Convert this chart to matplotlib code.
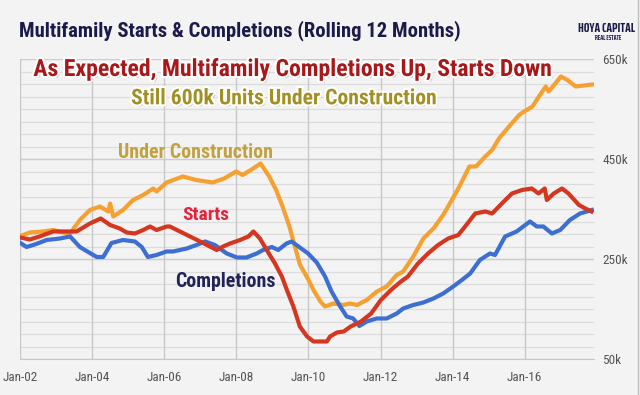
import matplotlib
matplotlib.use("Agg")
import matplotlib.pyplot as plt
import matplotlib.patheffects as pe
from matplotlib.lines import Line2D

plt.rcParams["font.family"] = ["Roboto Condensed", "DejaVu Sans"]
plt.rcParams["font.stretch"] = "condensed"

# data, values in thousands of units
comp_dates = [2002.0, 2002.17, 2002.4, 2002.73, 2003.1, 2003.38, 2003.65, 2003.93, 2004.12, 2004.3,
              2004.53, 2004.85, 2005.18, 2005.37, 2005.54, 2005.78, 2006.06, 2006.24, 2006.62, 2006.89,
              2007.13, 2007.4, 2007.73, 2008.01, 2008.28, 2008.56, 2008.74, 2008.98, 2009.16, 2009.39,
              2009.53, 2009.76, 2009.99, 2010.23, 2010.46, 2010.64, 2010.88, 2011.06, 2011.24, 2011.41,
              2011.62, 2011.89, 2012.17, 2012.45, 2012.63, 2012.91, 2013.19, 2013.47, 2013.74, 2014.02,
              2014.26, 2014.49, 2014.76, 2015.04, 2015.18, 2015.46, 2015.78, 2016.15, 2016.34, 2016.52,
              2016.76, 2016.99, 2017.26, 2017.54, 2017.87]
comp_vals = [283, 275, 280, 289, 292, 296, 275, 263, 255, 255,
             283, 289, 286, 275, 255, 259, 266, 266, 272, 279,
             286, 279, 262, 254, 254, 262, 269, 275, 269, 282,
             286, 274, 262, 244, 216, 186, 156, 136, 132, 117,
             126, 132, 132, 142, 152, 159, 164, 172, 182, 196,
             209, 222, 249, 262, 259, 296, 306, 326, 316, 316,
             302, 309, 329, 342, 349]

start_dates = [2002.0, 2002.26, 2002.53, 2002.91, 2003.28, 2003.56, 2003.93, 2004.23, 2004.49, 2004.76,
               2004.95, 2005.18, 2005.41, 2005.6, 2005.78, 2006.07, 2006.15, 2006.43, 2006.71, 2006.99,
               2007.26, 2007.45, 2007.63, 2007.82, 2008.1, 2008.33, 2008.47, 2008.65, 2008.84, 2009.07,
               2009.26, 2009.4, 2009.58, 2009.76, 2009.96, 2010.14, 2010.33, 2010.51, 2010.6, 2010.79,
               2010.98, 2011.17, 2011.46, 2011.74, 2012.01, 2012.29, 2012.57, 2012.76, 2013.04, 2013.32,
               2013.6, 2013.88, 2014.16, 2014.35, 2014.63, 2014.91, 2015.1, 2015.37, 2015.65, 2015.93,
               2016.2, 2016.39, 2016.56, 2016.62, 2016.81, 2017.04, 2017.22, 2017.51, 2017.69, 2017.86]
start_vals = [294, 290, 296, 306, 306, 306, 322, 332, 319, 312,
              304, 302, 309, 316, 309, 316, 316, 306, 296, 286,
              276, 269, 276, 282, 289, 296, 306, 292, 269, 242,
              216, 189, 156, 116, 96, 86, 86, 86, 96, 104,
              106, 116, 126, 142, 169, 189, 206, 216, 242, 262,
              279, 292, 299, 316, 342, 346, 342, 362, 382, 389,
              392, 382, 392, 369, 382, 392, 382, 359, 352, 346]

uc_dates = [2002.0, 2002.26, 2002.63, 2002.91, 2003.19, 2003.38, 2003.65, 2003.93, 2004.21, 2004.44,
            2004.49, 2004.58, 2004.85, 2005.13, 2005.41, 2005.69, 2005.78, 2006.06, 2006.51, 2006.88,
            2007.34, 2007.66, 2007.99, 2008.17, 2008.4, 2008.67, 2008.91, 2009.1, 2009.28, 2009.47,
            2009.65, 2009.76, 2009.95, 2010.14, 2010.33, 2010.46, 2010.69, 2010.97, 2011.15, 2011.35,
            2011.62, 2011.9, 2012.17, 2012.45, 2012.63, 2012.91, 2013.19, 2013.47, 2013.74, 2014.02,
            2014.19, 2014.47, 2014.65, 2014.91, 2015.1, 2015.29, 2015.57, 2015.85, 2015.99, 2016.22,
            2016.4, 2016.59, 2016.67, 2016.82, 2017.01, 2017.19, 2017.42, 2017.65, 2017.87]
uc_vals = [297, 304, 306, 309, 304, 302, 329, 349, 356, 346,
           362, 336, 349, 369, 379, 392, 386, 404, 416, 409,
           404, 412, 426, 419, 429, 442, 416, 389, 356, 316,
           269, 240, 216, 189, 166, 156, 162, 159, 162, 159,
           169, 186, 196, 219, 226, 256, 292, 312, 339, 374,
           396, 436, 436, 456, 469, 492, 516, 539, 546, 556,
           576, 596, 586, 599, 616, 609, 596, 598, 600]

xticks = [2002, 2004, 2006, 2008, 2010, 2012, 2014, 2016]
xticklabels = ["Jan-02", "Jan-04", "Jan-06", "Jan-08", "Jan-10", "Jan-12", "Jan-14", "Jan-16"]
yticks = [50, 250, 450, 650]
yticklabels = ["50k", "250k", "450k", "650k"]

bg = "#f3f3f3"
W, H = 640, 395
fig = plt.figure(figsize=(6.4, 3.95), dpi=100, facecolor=bg)
ax = fig.add_axes([0.0319, 0.0899, 0.8963, 0.7595], facecolor=bg)

# minor gridlines every 25k, vertical lines at the year ticks
for v in range(75, 650, 25):
    ax.axhline(v, color="#dcdcdc", lw=0.9, zorder=0)
for v in yticks:
    ax.axhline(v, color="#cdcdcd", lw=1.0, zorder=0)
for t in xticks:
    ax.axvline(t, color="#c8c8c8", lw=1.0, zorder=0)

ax.plot(uc_dates, uc_vals, color="#f5a030", lw=3.0, solid_joinstyle="round", zorder=3)
ax.plot(start_dates, start_vals, color="#d5361f", lw=3.0, solid_joinstyle="round", zorder=4)
ax.plot(comp_dates, comp_vals, color="#3d6fd2", lw=3.0, solid_joinstyle="round", zorder=3)

ax.set_xlim(2002.0, 2017.93)
ax.set_ylim(50, 650)
ax.set_xticks(xticks)
ax.set_xticklabels(xticklabels)
ax.set_yticks(yticks)
ax.set_yticklabels(yticklabels)
ax.yaxis.tick_right()
ax.tick_params(axis="both", length=0, labelsize=9.5, colors="#555555")
ax.tick_params(axis="x", pad=8)
ax.tick_params(axis="y", pad=6)
for s in ["top", "right", "left"]:
    ax.spines[s].set_visible(False)
ax.spines["bottom"].set_color("#c8c8c8")

renderer = fig.canvas.get_renderer()


def put(x, y, s, width, color, **kw):
    # place text by its left edge / baseline in pixels, then size it to the width seen
    t = fig.text(x / W, 1 - y / H, s, fontsize=12, fontweight="bold", color=color,
                 ha="left", va="baseline", **kw)
    t.set_fontsize(12 * width / t.get_window_extent(renderer).width)
    return t


fx = [pe.SimplePatchShadow(offset=(1.3, -1.3), shadow_rgbFace="#444444", alpha=0.45),
      pe.Stroke(linewidth=3, foreground="white"), pe.Normal()]

put(19, 36.7, "Multifamily Starts & Completions (Rolling 12 Months)", 443, "#1c1a4a")
put(33.3, 76, "As Expected, Multifamily Completions Up, Starts Down", 519, "#a8171a", path_effects=fx)
put(131, 104.3, "Still 600k Units Under Construction", 306, "#a39024", path_effects=fx)

put(118.3, 158, "Under Construction", 154, "#c2a23e", zorder=5)
put(182.7, 220, "Starts", 47, "#e2253d", zorder=5)
put(175, 287, "Completions", 100, "#23235a", zorder=5)

# logo, in a tighter face
logo = ["Saira ExtraCondensed", "Roboto Condensed", "DejaVu Sans"]
put(578, 31.5, "HOYA CAPITAL", 57, "#1c1a4a", family=logo)
put(595, 40, "REAL ESTATE", 27, "#1c1a4a", family=logo)

fig.add_artist(Line2D([0.997, 0.997], [0, 1], transform=fig.transFigure, color="#bdbdbd", lw=1))

fig.savefig("out.png", dpi=100, facecolor=bg)
